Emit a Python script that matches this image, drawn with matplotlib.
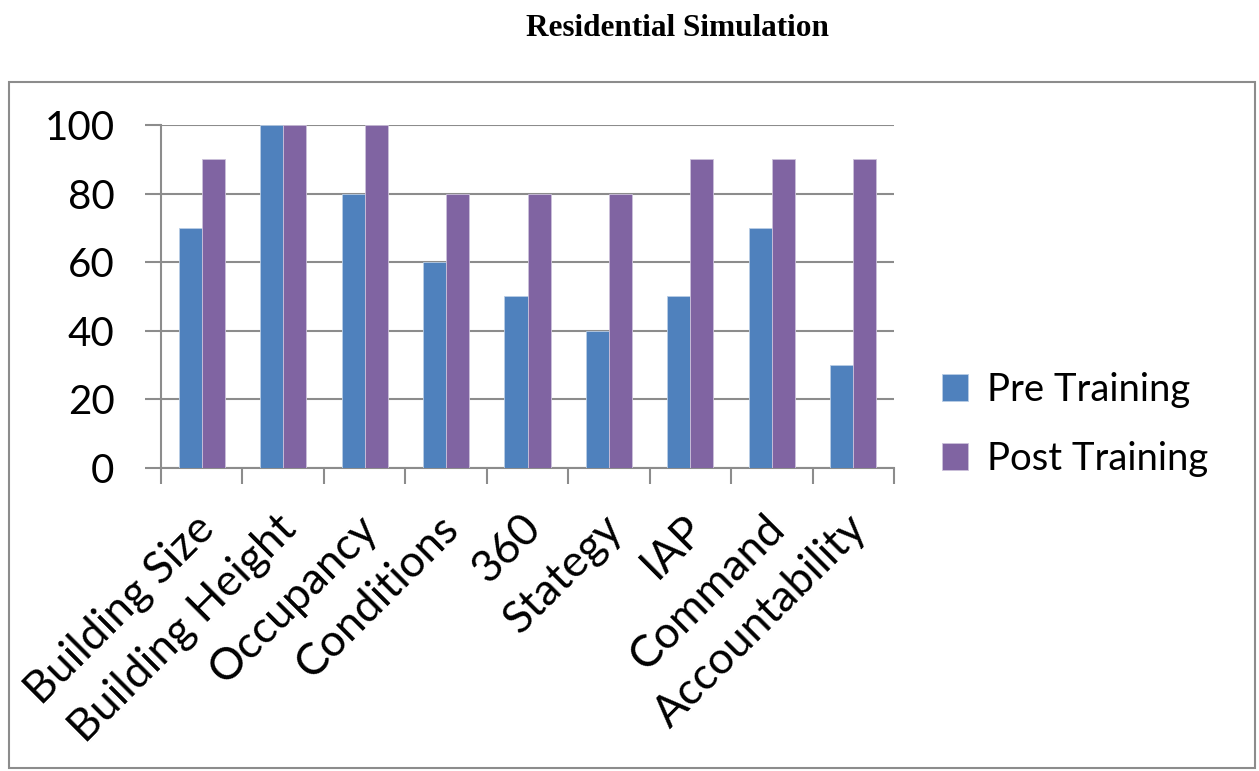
import numpy as np
import matplotlib.pyplot as plt
import matplotlib.transforms as mtransforms
from matplotlib.patches import Rectangle

# data
categories = ['Building Size', 'Building Height', 'Occupancy', 'Conditions', '360',
              'Stategy', 'IAP', 'Command', 'Accountability']
pre_training = [70, 100, 80, 60, 50, 40, 50, 70, 30]
post_training = [90, 100, 100, 80, 80, 80, 90, 90, 90]
y_ticks = [0, 20, 40, 60, 80, 100]

W, H = 1259, 771
fig = plt.figure(figsize=(W / 100, H / 100), dpi=100)
plt.rcParams['font.family'] = ['Lato', 'DejaVu Sans']

# outer chart border
fig.patches.append(Rectangle((9 / W, 1 - 768 / H), 1246 / W, 686 / H,
                             transform=fig.transFigure, fill=False,
                             edgecolor='#8c8c8c', linewidth=1.5))

fig.text(678 / W, 1 - 28 / H, 'Residential Simulation', ha='center', va='center',
         family='Liberation Serif', fontweight='bold', fontsize=22.5)

ax = fig.add_axes([161 / W, 1 - 468 / H, (894 - 161) / W, (468 - 125) / H])

x = np.arange(len(categories))
bw = 0.283
grey = '#8c8c8c'
ax.bar(x - bw / 2, pre_training, bw, color='#4f81bd', edgecolor='#b9cde5',
       linewidth=0.6, label='Pre Training', zorder=3)
ax.bar(x + bw / 2, post_training, bw, color='#8064a2', edgecolor='#ccc1da',
       linewidth=0.6, label='Post Training', zorder=3)

ax.set_xlim(-0.5, len(categories) - 0.5)
ax.set_ylim(0, 100)
ax.set_yticks(y_ticks)
ax.yaxis.grid(True, color=grey, linewidth=1.5, zorder=0)
ax.tick_params(axis='y', length=11.5, width=1.5, color=grey, labelsize=29, pad=22)

# category ticks sit between groups, labels at centres
ax.set_xticks(np.arange(len(categories) + 1) - 0.5, minor=True)
ax.set_xticks(x)
ax.set_xticklabels(categories, rotation=45, ha='right', rotation_mode='anchor',
                   fontsize=32)
ax.tick_params(axis='x', which='major', length=0, pad=24)
ax.tick_params(axis='x', which='minor', length=11.5, width=1.5, color=grey)
shift = mtransforms.ScaledTranslation(-0.08, -0.06, fig.dpi_scale_trans)
for lbl in ax.get_xticklabels():
    lbl.set_transform(lbl.get_transform() + shift)

for side in ['top', 'right']:
    ax.spines[side].set_visible(False)
for side in ['left', 'bottom']:
    ax.spines[side].set_color(grey)
    ax.spines[side].set_linewidth(1.5)

ax.legend(loc='center left', bbox_to_anchor=(1.065, 0.127), frameon=False,
          fontsize=27.5, handlelength=0.7, handleheight=0.7, handletextpad=0.5,
          labelspacing=0.85, borderpad=0, borderaxespad=0)

fig.savefig('out.png', dpi=100)
